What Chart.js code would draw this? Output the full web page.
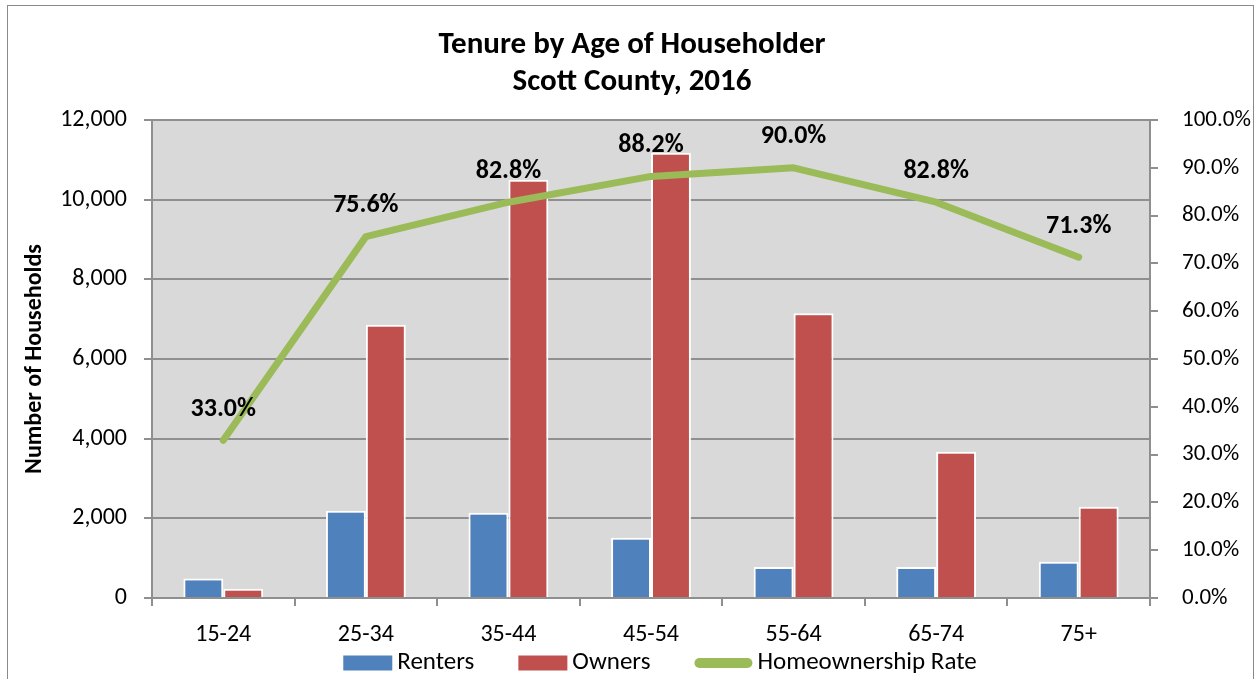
<!DOCTYPE html>
<html>
<head>
<meta charset="utf-8">
<script src="https://cdn.jsdelivr.net/npm/chart.js@4"></script>
<style>
  html, body { margin: 0; padding: 0; background: #fff; }
  canvas { display: block; }
</style>
</head>
<body>
<canvas id="tenureChart" width="1260" height="679"></canvas>
<script>
const ageGroups = ["15-24", "25-34", "35-44", "45-54", "55-64", "65-74", "75+"];
const renters = [490, 2190, 2140, 1510, 780, 780, 910];
const owners = [230, 6860, 10500, 11180, 7150, 3670, 2290];
const ownershipRate = [33.0, 75.6, 82.8, 88.2, 90.0, 82.8, 71.3];
const titleLines = ["Tenure by Age of Householder", "Scott County, 2016"];

const FONT = "Carlito, Lato, 'Liberation Sans', sans-serif";
const GRID = "#8f8f8f";

const ctx = document.getElementById("tenureChart").getContext("2d");

// background, border, plot fill, titles, value labels and legend
const decor = {
    id: "decor",
    beforeDraw(chart) {
        const c = chart.ctx;
        const a = chart.chartArea;
        c.save();
        c.fillStyle = "#fff";
        c.fillRect(0, 0, chart.width, chart.height);
        c.strokeStyle = "#8a8a8a";
        c.lineWidth = 1;
        c.strokeRect(7.5, 5.5, 1246, 700);
        c.fillStyle = "#d9d9d9";
        c.fillRect(a.left, a.top, a.right - a.left, a.bottom - a.top);

        c.fillStyle = "#000";
        c.textAlign = "center";
        c.textBaseline = "middle";
        c.font = "bold 31px " + FONT;
        c.fillText(titleLines[0], 632, 45);
        c.fillText(titleLines[1], 632, 82);

        c.translate(35, (a.top + a.bottom) / 2);
        c.rotate(-Math.PI / 2);
        c.font = "bold 24px " + FONT;
        c.fillText("Number of Households", 0, 0);
        c.restore();
    },
    afterDatasetsDraw(chart) {
        const c = chart.ctx;
        const meta = chart.getDatasetMeta(2);
        c.save();
        c.fillStyle = "#000";
        c.font = "bold 26px " + FONT;
        c.textAlign = "center";
        c.textBaseline = "middle";
        meta.data.forEach((pt, i) => {
            c.fillText(ownershipRate[i].toFixed(1) + "%", pt.x, pt.y - 31);
        });
        c.restore();
    },
    afterDraw(chart) {
        // legend row under the axis
        const c = chart.ctx;
        const sets = chart.data.datasets;
        c.save();
        c.font = "25px " + FONT;
        c.textBaseline = "middle";
        c.textAlign = "left";
        const keyW = ds => (ds.type === "line" ? 58 : 49);
        const widths = sets.map(ds => keyW(ds) + 5 + c.measureText(ds.label).width);
        const total = widths.reduce((s, w) => s + w, 0) + 44 * (sets.length - 1);
        let x = 660 - total / 2;
        const y = 663;
        sets.forEach((ds, i) => {
            c.fillStyle = ds.backgroundColor;
            if (ds.type === "line") {
                c.beginPath();
                c.roundRect(x, y - 5, 58, 10, 5);
                c.fill();
            } else {
                c.fillRect(x, y - 7.5, 49, 15);
            }
            c.fillStyle = "#000";
            c.fillText(ds.label, x + keyW(ds) + 5, y);
            x += widths[i] + 44;
        });
        c.restore();
    }
};

new Chart(ctx, {
    type: "bar",
    data: {
        labels: ageGroups,
        datasets: [
            {
                label: "Renters",
                data: renters,
                backgroundColor: "#4f81bd",
                borderColor: "#ffffff",
                borderWidth: 2,
                categoryPercentage: 0.56,
                barPercentage: 1,
                yAxisID: "y",
                order: 1
            },
            {
                label: "Owners",
                data: owners,
                backgroundColor: "#c0504d",
                borderColor: "#ffffff",
                borderWidth: 2,
                categoryPercentage: 0.56,
                barPercentage: 1,
                yAxisID: "y",
                order: 1
            },
            {
                type: "line",
                label: "Homeownership Rate",
                data: ownershipRate,
                borderColor: "#9bbb59",
                backgroundColor: "#9bbb59",
                borderWidth: 7,
                borderCapStyle: "round",
                borderJoinStyle: "round",
                pointRadius: 0,
                tension: 0,
                yAxisID: "y1",
                order: 0
            }
        ]
    },
    options: {
        responsive: false,
        animation: false,
        layout: { padding: { top: 120, left: 60, right: 0, bottom: 21 } },
        plugins: {
            tooltip: { enabled: false },
            title: { display: false },
            legend: { display: false }
        },
        scales: {
            x: {
                afterFit(scale) { scale.height = 60; },
                grid: {
                    offset: true,
                    drawOnChartArea: false,
                    drawTicks: true,
                    tickLength: 8,
                    color: GRID,
                    lineWidth: 2
                },
                border: { color: GRID, width: 2 },
                ticks: {
                    color: "#000",
                    padding: 15,
                    font: { family: FONT, size: 24 }
                }
            },
            y: {
                position: "left",
                min: 0,
                max: 12000,
                afterFit(scale) { scale.width = 92; },
                grid: {
                    color: GRID,
                    lineWidth: 2,
                    tickLength: 8
                },
                border: { color: GRID, width: 2 },
                ticks: {
                    stepSize: 2000,
                    color: "#000",
                    padding: 17,
                    font: { family: FONT, size: 24 },
                    callback: v => v.toLocaleString("en-US")
                }
            },
            y1: {
                position: "right",
                min: 0,
                max: 100,
                afterFit(scale) { scale.width = 110; },
                grid: {
                    drawOnChartArea: false,
                    drawTicks: true,
                    tickLength: 8,
                    color: GRID,
                    lineWidth: 2
                },
                border: { color: GRID, width: 2 },
                ticks: {
                    stepSize: 10,
                    color: "#000",
                    padding: 24,
                    font: { family: FONT, size: 23 },
                    callback: v => v.toFixed(1) + "%"
                }
            }
        }
    },
    plugins: [decor]
});
</script>
</body>
</html>
